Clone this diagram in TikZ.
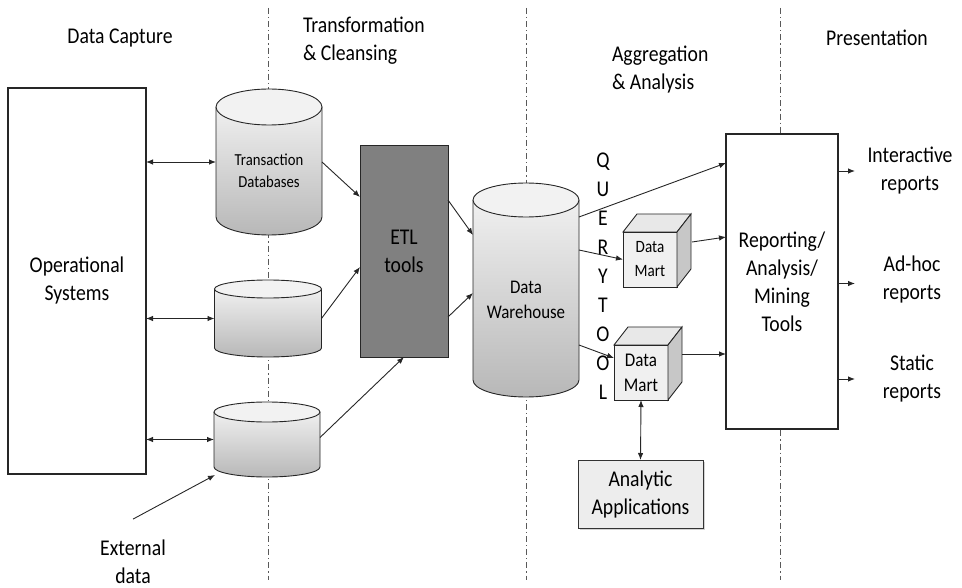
\documentclass[tikz,border=0pt]{standalone}
\usepackage{fontspec}
\setmainfont{Carlito}[FakeStretch=0.875]
\usetikzlibrary{arrows.meta,shadows,calc}
\newcommand\mycyl[5]{% cx, ytop, ybottom, rx, ry
  \shade[top color=black!6, bottom color=black!28] (#1-#4,#2) -- (#1-#4,#3) arc[start angle=180,end angle=0,x radius=#4,y radius=#5] -- (#1+#4,#2) -- cycle;
  \draw[ln] (#1-#4,#2) -- (#1-#4,#3) arc[start angle=180,end angle=0,x radius=#4,y radius=#5] -- (#1+#4,#2);
  \filldraw[ln, fill=black!5] (#1,#2) ellipse[x radius=#4, y radius=#5];
}
\begin{document}
\begin{tikzpicture}[x=1pt,y=-1pt,
  every node/.style={align=center, inner sep=0pt, outer sep=0pt},
  big/.style={font=\fontsize{22.5}{28}\selectfont},
  ln/.style={line width=0.9pt, draw=black!85},
  arr/.style={ln, -{Latex[length=7pt,width=5.5pt]}},
  darr/.style={ln, {Latex[length=7pt,width=5.5pt]}-{Latex[length=7pt,width=5.5pt]}},
  sep/.style={line width=0.8pt, draw=black!65, dash pattern=on 6pt off 3pt on 1.2pt off 3pt},
  bigbox/.style={draw=black!85, line width=2.3pt, fill=white},
  cylbody/.style={draw=none},
  martface/.style={ln, fill=black!6},
  marttop/.style={ln, fill=black!9},
  martside/.style={ln, fill=black!22},
]
\useasboundingbox (0,0) rectangle (962,588);

% section separators
\draw[sep] (268,8) -- (268,580);
\draw[sep] (526,8) -- (526,580);
\draw[sep] (780,8) -- (780,580);

% headers
\node[big] (hcap) at (120,38) {Data Capture};
\node[big, align=left, anchor=west] (htr) at (303,41) {Transformation\\\& Cleansing};
\node[big, align=left, anchor=west] (hagg) at (612,70) {Aggregation\\\& Analysis};
\node[big] (hpre) at (877,38) {Presentation};

% operational systems
\node[bigbox, big, minimum width=138pt, minimum height=386pt] (ops) at (77,281) {Operational\\Systems};

% cylinders
\mycyl{269}{107}{217}{53}{18}
\node[cylbody, minimum width=106pt, minimum height=110pt] (c1) at (269,162) {};
\node[font=\fontsize{16.8}{22}\selectfont] (c1t) at (269,171) {Transaction\\Databases};

\mycyl{268}{289}{348}{53.5}{9}
\node[cylbody, minimum width=107pt, minimum height=59pt] (c2) at (268,318.5) {};

\mycyl{267}{412}{467}{53}{10}
\node[cylbody, minimum width=106pt, minimum height=55pt] (c3) at (267,439.5) {};

\draw[darr] (ops.east |- c1.west) -- (c1.west);
\draw[darr] (ops.east |- c2.west) -- (c2.west);
\draw[darr] (ops.east |- c3.west) -- (c3.west);

% external data
\node[big] (ext) at (133,562) {External\\data};
\draw[arr] ([yshift=21pt]ext.north) -- ([xshift=1pt,yshift=-8pt]c3.south west);

% ETL
\node[draw=black!85, line width=0.9pt, fill=black!50, big, minimum width=88pt, minimum height=212pt] (etl) at (404,251) {ETL\\tools};
\draw[arr] (c1.east) -- ([yshift=54pt]etl.west);
\draw[arr] (c2.east) -- ([yshift=-16pt]etl.west);
\draw[arr] ([yshift=2pt]c3.east) -- (etl.south);

% data warehouse
\mycyl{526}{200}{380}{53}{17}
\node[cylbody, minimum width=106pt, minimum height=180pt] (dw) at (526,290) {};
\node[font=\fontsize{19.3}{25}\selectfont] (dwt) at (526,300) {Data\\Warehouse};
\draw[arr] ([yshift=51pt]etl.east) -- ([yshift=55pt]dw.west);
\draw[arr] ([yshift=-66pt]etl.east) -- ([yshift=-3pt]dw.west);

% query tool
\node[font=\fontsize{22.5}{29}\selectfont] (qt) at (603,276) {Q\\U\\E\\R\\Y\\T\\O\\O\\L};

% reporting box
\node[bigbox, big, minimum width=112pt, minimum height=295pt] (rep) at (782,281.5) {Reporting/\\Analysis/\\Mining\\Tools};

% data marts
\node[martface, font=\fontsize{17.3}{24}\selectfont, minimum width=54pt, minimum height=55pt] (dm1) at (650,259.5) {Data\\Mart};
\filldraw[marttop] (dm1.north west) -- ++(14,-18) -- ++(54,0) -- (dm1.north east) -- cycle;
\filldraw[martside] (dm1.north east) -- ++(14,-18) -- ++(0,55) -- (dm1.south east) -- cycle;

\node[martface, font=\fontsize{19.4}{25}\selectfont, minimum width=54pt, minimum height=55pt] (dm2) at (641,372.5) {Data\\Mart};
\filldraw[marttop] (dm2.north west) -- ++(14,-18) -- ++(54,0) -- (dm2.north east) -- cycle;
\filldraw[martside] (dm2.north east) -- ++(14,-18) -- ++(0,55) -- (dm2.south east) -- cycle;

\draw[arr] ([yshift=73pt]dw.east) -- ([yshift=118.5pt]rep.west);
\draw[arr] ([yshift=40pt]dw.east) -- (dm1.west);
\draw[arr] ([yshift=-55pt]dw.east) -- ([yshift=14.5pt]dm2.west);
\draw[arr] ([xshift=15pt,yshift=17.5pt]dm1.east) -- ([yshift=44.5pt]rep.west);
\draw[arr] ([xshift=14pt,yshift=18.5pt]dm2.east) -- ([yshift=-72.5pt]rep.west);

% analytic applications
\node[draw=black!80, line width=0.9pt, fill=black!7, big, minimum width=125pt, minimum height=68pt,
      drop shadow={opacity=0.35, shadow xshift=1.5pt, shadow yshift=-2pt}] (app) at (640.5,494) {Analytic\\Applications};
\draw[darr] (dm2.south) -- (app.north);

% outputs
\node[big] (out1) at (910,171) {Interactive\\reports};
\node[big] (out2) at (912,280) {Ad-hoc\\reports};
\node[big] (out3) at (912,379) {Static\\reports};
\draw[arr] (rep.east |- out1.west) -- (855,171);
\draw[arr] ([yshift=-2pt]rep.east) -- (855,283.5);
\draw[arr] (rep.east |- out3.west) -- (855,379);
\end{tikzpicture}
\end{document}
